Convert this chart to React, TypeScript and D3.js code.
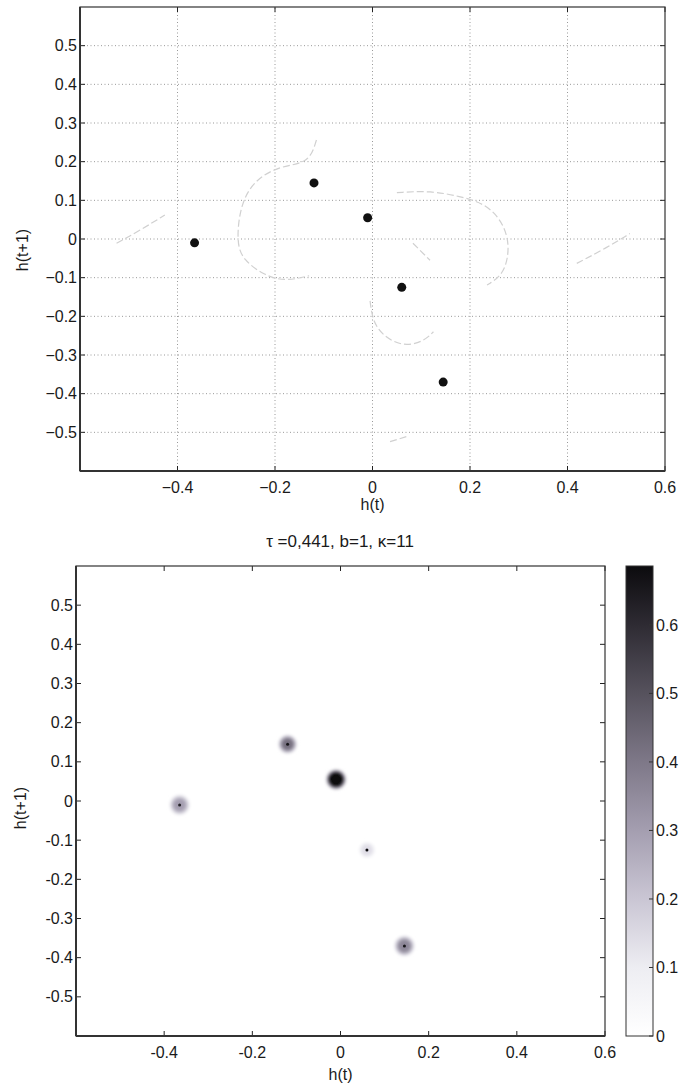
import { useEffect, useRef } from 'react'
import * as d3 from 'd3'

// tick values shared by both panels
const xTicks = [-0.4, -0.2, 0, 0.2, 0.4, 0.6]
const yTicks = [-0.5, -0.4, -0.3, -0.2, -0.1, 0, 0.1, 0.2, 0.3, 0.4, 0.5]
const cbarTicks = [0, 0.1, 0.2, 0.3, 0.4, 0.5, 0.6]

// fixed points h(t), h(t+1)
const pointX = [-0.365, -0.12, -0.01, 0.06, 0.145]
const pointY = [-0.01, 0.145, 0.055, -0.125, -0.37]

// density spots in the lower panel (same centres)
const spotHalo = [0.3, 0.42, 0.686, 0.14, 0.36]
const spotCore = [0.62, 0.66, 0.686, 0.686, 0.66]
const spotRadius = [0.026, 0.024, 0.026, 0.021, 0.026]

// faint trajectories in the upper panel
const traces: [number, number][][] = [
  [[-0.525, -0.011], [-0.48, 0.02], [-0.426, 0.062]],
  [[-0.115, 0.256], [-0.13, 0.195], [-0.19, 0.19], [-0.245, 0.15], [-0.272, 0.084], [-0.279, -0.011], [-0.265, -0.054], [-0.224, -0.093], [-0.18, -0.11], [-0.13, -0.095]],
  [[0.083, -0.011], [0.118, -0.055]],
  [[-0.005, -0.16], [0.0, -0.21], [0.02, -0.25], [0.063, -0.279], [0.105, -0.265], [0.125, -0.24]],
  [[0.05, 0.12], [0.12, 0.125], [0.18, 0.11], [0.227, 0.093], [0.262, 0.055], [0.283, -0.01], [0.272, -0.09], [0.235, -0.119]],
  [[0.419, -0.063], [0.47, -0.03], [0.528, 0.014]],
  [[0.036, -0.524], [0.07, -0.511]]
]

// reversed bone-like colormap
const cmapValues = [0, 0.1, 0.2, 0.3, 0.4, 0.5, 0.6, 0.686]
const cmapColors = ['#ffffff', '#ededf2', '#cac6d4', '#a49eb0', '#7e7888', '#56525d', '#2e2b33', '#0c0b0e']

const FONT = '"Liberation Sans", Arial, sans-serif'
const INK = '#1a1a1a'

export default function App() {
  const svgRef = useRef<SVGSVGElement>(null)

  useEffect(() => {
    if (!svgRef.current) return
    const svg = d3.select(svgRef.current)
    svg.selectAll('*').remove()

    const color = d3.scaleLinear<string>().domain(cmapValues).range(cmapColors).clamp(true)
    const defs = svg.append('defs')
    defs.append('filter').attr('id', 'soft').attr('x', '-50%').attr('y', '-50%').attr('width', '200%').attr('height', '200%')
      .append('feGaussianBlur').attr('stdDeviation', 1.4)

    const drawFrame = (
      g: d3.Selection<SVGGElement, unknown, null, undefined>,
      x: d3.ScaleLinear<number, number>,
      y: d3.ScaleLinear<number, number>,
      minus: string,
      fontSize: number
    ) => {
      const [x0, x1] = x.range()
      const [y0, y1] = y.range()
      const fmt = (d: number) => (d < 0 ? minus + Math.abs(d) : String(d))
      // inward ticks on all four sides
      xTicks.forEach(t => {
        g.append('line').attr('x1', x(t)).attr('x2', x(t)).attr('y1', y0).attr('y2', y0 - 5).attr('stroke', '#222')
        g.append('line').attr('x1', x(t)).attr('x2', x(t)).attr('y1', y1).attr('y2', y1 + 5).attr('stroke', '#222')
        g.append('text').attr('x', x(t)).attr('y', y0 + 22).attr('text-anchor', 'middle')
          .attr('font-size', fontSize).attr('font-family', FONT).attr('fill', INK).text(fmt(t))
      })
      yTicks.forEach(t => {
        g.append('line').attr('x1', x0).attr('x2', x0 + 5).attr('y1', y(t)).attr('y2', y(t)).attr('stroke', '#222')
        g.append('line').attr('x1', x1).attr('x2', x1 - 5).attr('y1', y(t)).attr('y2', y(t)).attr('stroke', '#222')
        g.append('text').attr('x', x0 - 3).attr('y', y(t)).attr('dy', '0.35em').attr('text-anchor', 'end')
          .attr('font-size', fontSize).attr('font-family', FONT).attr('fill', INK).text(fmt(t))
      })
      g.append('rect').attr('x', x0).attr('y', y1).attr('width', x1 - x0).attr('height', y0 - y1)
        .attr('fill', 'none').attr('stroke', '#333').attr('stroke-width', 1.2)
      g.append('line').attr('x1', x0).attr('x2', x0).attr('y1', y1).attr('y2', y0).attr('stroke', '#333').attr('stroke-width', 2)
      g.append('line').attr('x1', x0).attr('x2', x1).attr('y1', y0).attr('y2', y0).attr('stroke', '#333').attr('stroke-width', 2)
    }

    // ---------- upper panel ----------
    const xTop = d3.scaleLinear().domain([-0.6, 0.6]).range([80, 665])
    const yTop = d3.scaleLinear().domain([-0.6, 0.6]).range([471, 7])
    const top = svg.append('g')

    xTicks.slice(0, -1).forEach(t => {
      top.append('line').attr('x1', xTop(t)).attr('x2', xTop(t)).attr('y1', 471).attr('y2', 7)
        .attr('stroke', '#999').attr('stroke-dasharray', '1,2.5')
    })
    yTicks.forEach(t => {
      top.append('line').attr('x1', 80).attr('x2', 665).attr('y1', yTop(t)).attr('y2', yTop(t))
        .attr('stroke', '#999').attr('stroke-dasharray', '1,2.5')
    })

    const line = d3.line<[number, number]>().x(d => xTop(d[0])).y(d => yTop(d[1])).curve(d3.curveBasis)
    traces.forEach(tr => {
      top.append('path').attr('d', line(tr)).attr('fill', 'none')
        .attr('stroke', '#d0d0d0').attr('stroke-width', 1.2).attr('stroke-dasharray', '7,3')
    })

    pointX.forEach((px, i) => {
      top.append('circle').attr('cx', xTop(px)).attr('cy', yTop(pointY[i])).attr('r', 4.5).attr('fill', '#111')
    })

    drawFrame(top, xTop, yTop, '\u2212', 16)
    top.append('text').attr('x', xTop(0)).attr('y', 510).attr('text-anchor', 'middle')
      .attr('font-size', 16).attr('font-family', FONT).attr('fill', INK).text('h(t)')
    top.append('text').attr('transform', 'translate(28,250) rotate(-90)').attr('text-anchor', 'middle')
      .attr('font-size', 16).attr('font-family', FONT).attr('fill', INK).text('h(t+1)')

    // ---------- lower panel ----------
    const xBot = d3.scaleLinear().domain([-0.6, 0.6]).range([76, 605])
    const yBot = d3.scaleLinear().domain([-0.6, 0.6]).range([1036, 566])
    const bot = svg.append('g')
    const spots = bot.append('g').attr('filter', 'url(#soft)')

    pointX.forEach((px, i) => {
      const id = `spot${i}`
      const grad = defs.append('radialGradient').attr('id', id)
      grad.append('stop').attr('offset', '0%').attr('stop-color', color(spotHalo[i]))
      grad.append('stop').attr('offset', '45%').attr('stop-color', color(spotHalo[i]))
      grad.append('stop').attr('offset', '75%').attr('stop-color', color(spotHalo[i] * 0.5))
      grad.append('stop').attr('offset', '100%').attr('stop-color', color(0)).attr('stop-opacity', 0)
      const r = xBot(spotRadius[i]) - xBot(0)
      spots.append('circle').attr('cx', xBot(px)).attr('cy', yBot(pointY[i])).attr('r', r).attr('fill', `url(#${id})`)
      if (spotHalo[i] >= 0.6) {
        spots.append('circle').attr('cx', xBot(px)).attr('cy', yBot(pointY[i])).attr('r', r * 0.68).attr('fill', color(spotCore[i]))
      } else {
        bot.append('circle').attr('cx', xBot(px)).attr('cy', yBot(pointY[i])).attr('r', 1.5).attr('fill', color(spotCore[i]))
      }
    })

    drawFrame(bot, xBot, yBot, '-', 16)
    bot.append('text').attr('x', xBot(0)).attr('y', 1080).attr('text-anchor', 'middle')
      .attr('font-size', 16).attr('font-family', FONT).attr('fill', INK).text('h(t)')
    bot.append('text').attr('transform', 'translate(26,808) rotate(-90)').attr('text-anchor', 'middle')
      .attr('font-size', 16).attr('font-family', FONT).attr('fill', INK).text('h(t+1)')
    bot.append('text').attr('x', 340).attr('y', 547).attr('text-anchor', 'middle')
      .attr('font-size', 17).attr('font-family', FONT).attr('fill', INK).text('\u03c4 =0,441, b=1, \u03ba=11')

    // colour bar
    const cb = d3.scaleLinear().domain([0, 0.686]).range([1036, 566])
    const cbGrad = defs.append('linearGradient').attr('id', 'cbar').attr('x1', 0).attr('x2', 0).attr('y1', 1).attr('y2', 0)
    cmapValues.forEach((v, i) => {
      cbGrad.append('stop').attr('offset', `${(v / 0.686) * 100}%`).attr('stop-color', cmapColors[i])
    })
    bot.append('rect').attr('x', 626).attr('y', 566).attr('width', 27).attr('height', 470)
      .attr('fill', 'url(#cbar)').attr('stroke', '#333').attr('stroke-width', 1)
    cbarTicks.forEach(t => {
      bot.append('line').attr('x1', 653).attr('x2', 649).attr('y1', cb(t)).attr('y2', cb(t)).attr('stroke', '#333')
      bot.append('text').attr('x', 656).attr('y', cb(t)).attr('dy', '0.35em')
        .attr('font-size', 16).attr('font-family', FONT).attr('fill', INK).text(String(t))
    })
  }, [])

  return (
    <svg
      ref={svgRef}
      width={684}
      height={1085}
      style={{ position: 'absolute', left: 0, top: 0, background: '#fff' }}
    />
  )
}
